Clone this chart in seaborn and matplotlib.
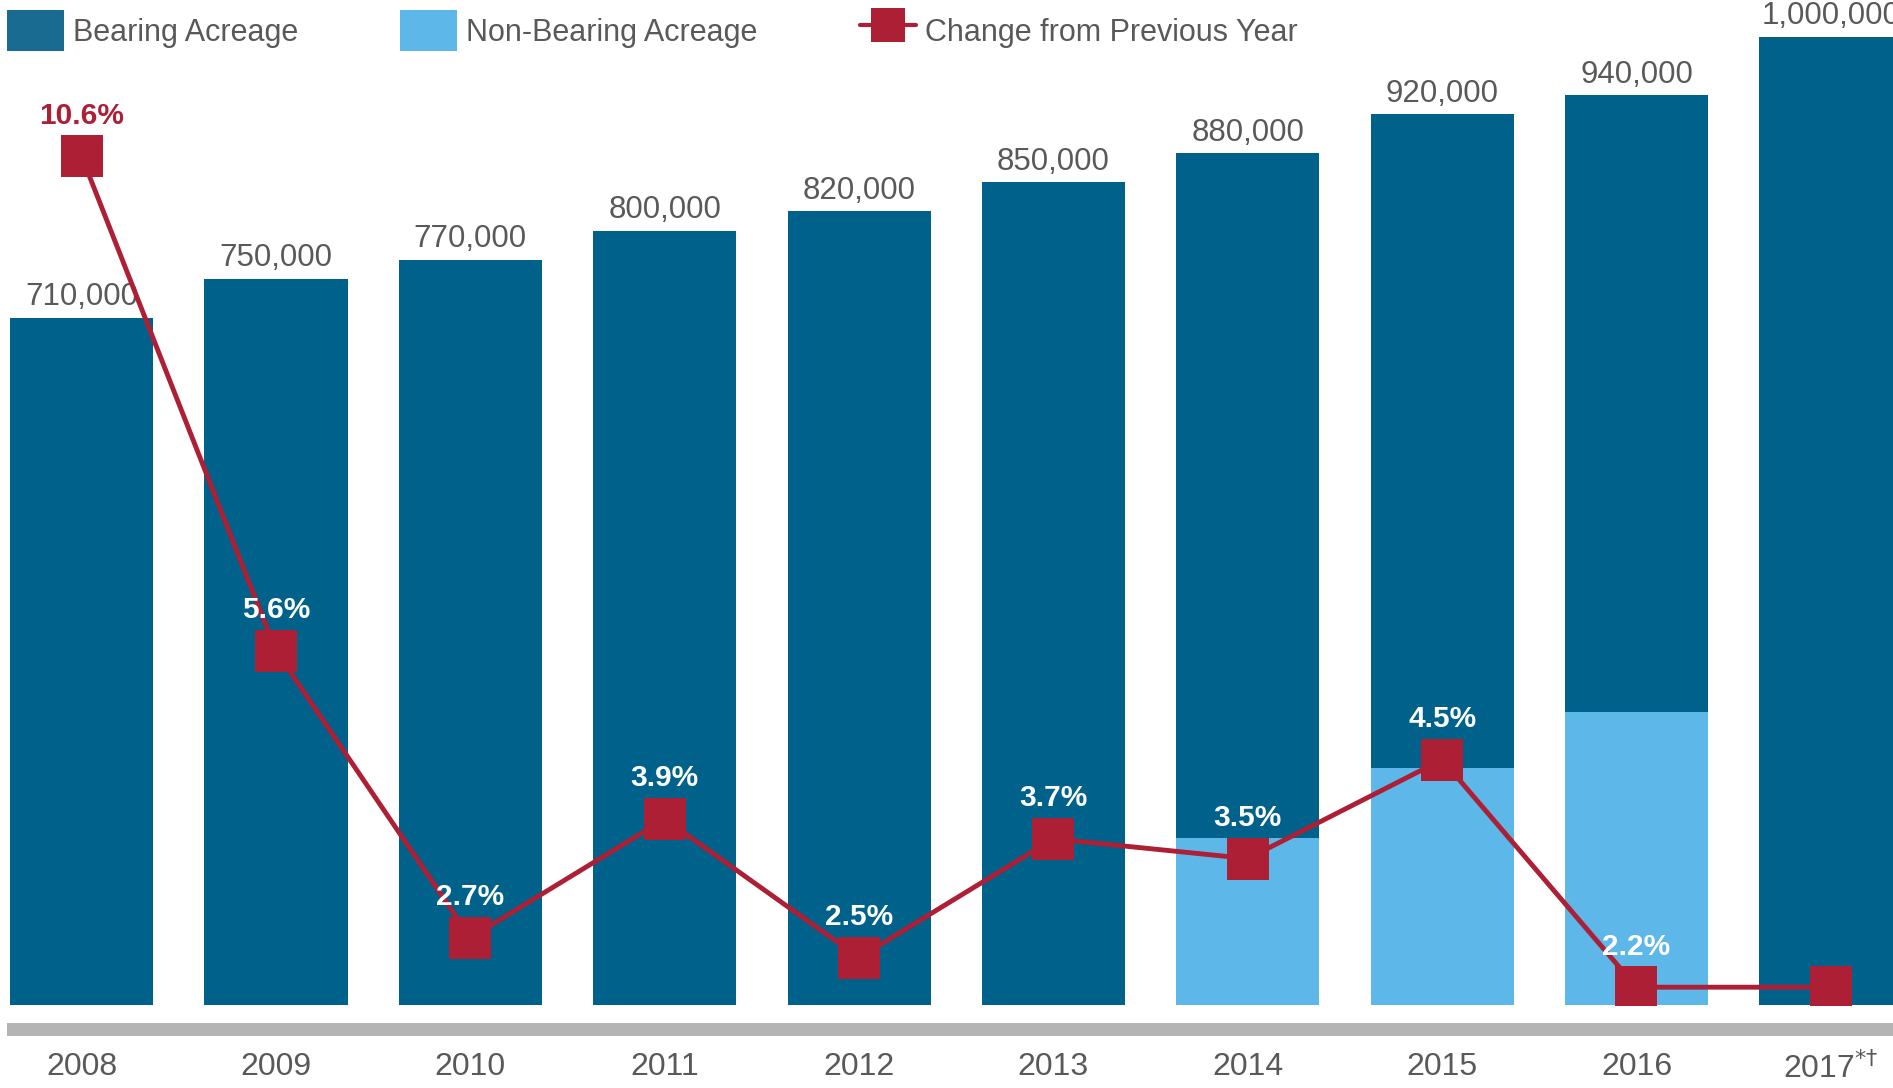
import numpy as np
import pandas as pd
import seaborn as sns
import matplotlib.pyplot as plt
from matplotlib.patches import Patch, Rectangle
from matplotlib.lines import Line2D

# data
years = ['2008', '2009', '2010', '2011', '2012', '2013', '2014', '2015', '2016', '2017']
year_labels = ['2008', '2009', '2010', '2011', '2012', '2013', '2014', '2015', '2016', '2017$^{*†}$']
total_acres = [710000, 750000, 770000, 800000, 820000, 850000, 880000, 920000, 940000, 1000000]
nonbearing_acres = [0, 0, 0, 0, 0, 0, 173000, 245000, 303000, 0]
change_pct = [10.6, 5.6, 2.7, 3.9, 2.5, 3.7, 3.5, 4.5, 2.2, 2.2]
change_labels = ['10.6%', '5.6%', '2.7%', '3.9%', '2.5%', '3.7%', '3.5%', '4.5%', '2.2%', '']

dark_blue = '#00628b'
light_blue = '#5db7e8'
red = '#ac1f35'
text_gray = '#58595b'

sns.set_style('white')
plt.rcParams['font.family'] = ['Liberation Sans', 'DejaVu Sans']

df = pd.DataFrame({'year': years, 'total': total_acres, 'nonbearing': nonbearing_acres})

fig = plt.figure(figsize=(18.93, 10.88), dpi=100)
ax = fig.add_axes([0, 83 / 1088, 1, 1005 / 1088])

sns.barplot(data=df, x='year', y='total', color=dark_blue, saturation=1,
            width=0.736, linewidth=0, errorbar=None, ax=ax)
sns.barplot(data=df, x='year', y='nonbearing', color=light_blue, saturation=1,
            width=0.736, linewidth=0, errorbar=None, ax=ax)

for i, v in enumerate(total_acres):
    ax.annotate(f'{v:,}', xy=(i, v), xytext=(0, 9), textcoords='offset points',
                ha='center', va='baseline', fontsize=22.5, color=text_gray)

ax.set_ylim(0, 1038223)
ax.set_xticks(range(len(years)))
ax.set_xticklabels(year_labels)
ax.tick_params(axis='x', length=0, pad=34, labelsize=23, labelcolor=text_gray)
ax.set_yticks([])
ax.set_xlabel('')
ax.set_ylabel('')
sns.despine(ax=ax, left=True, bottom=True)

# change line on a second axis
ax2 = ax.twinx()
x_pos = np.arange(len(years))
sns.lineplot(x=x_pos, y=change_pct, color=red, marker='s', markersize=30,
             markeredgewidth=0, linewidth=3.5, ax=ax2)
for i, (v, lab) in enumerate(zip(change_pct, change_labels)):
    if not lab:
        continue
    # first label sits above its bar, on white
    ax2.annotate(lab, xy=(i, v), xytext=(0, 23.5), textcoords='offset points',
                 ha='center', va='baseline', fontsize=21.5, fontweight='bold',
                 color=red if i == 0 else 'white')
ax2.set_ylim(2.02, 12.18)
ax2.set_yticks([])
ax2.set_ylabel('')
sns.despine(ax=ax2, left=True, bottom=True, right=True)

ax.set_xlim(-0.42, 9.32)
ax2.set_xlim(-0.42, 9.32)

# grey baseline band under the bars
fig.add_artist(Rectangle((7 / 1893, 52 / 1088), 1, 13 / 1088,
                         transform=fig.transFigure, color='#b4b4b4', lw=0))

handles = [
    Patch(facecolor='#1a6b91', edgecolor='none', label='Bearing Acreage'),
    Patch(facecolor=light_blue, edgecolor='none', label='Non-Bearing Acreage'),
    Line2D([], [], color=red, marker='s', markersize=25, markeredgewidth=0,
           linewidth=3, label='Change from Previous Year'),
]
ax2.legend(handles=handles, loc='upper left', ncol=3, frameon=False,
           bbox_to_anchor=(7 / 1893, 1 - 10 / 1088), bbox_transform=fig.transFigure,
           borderaxespad=0, borderpad=0, fontsize=22, labelcolor=text_gray,
           handlelength=1.85, handleheight=1.7, handletextpad=0.3, columnspacing=3.35)

fig.savefig('out.png', dpi=100)
